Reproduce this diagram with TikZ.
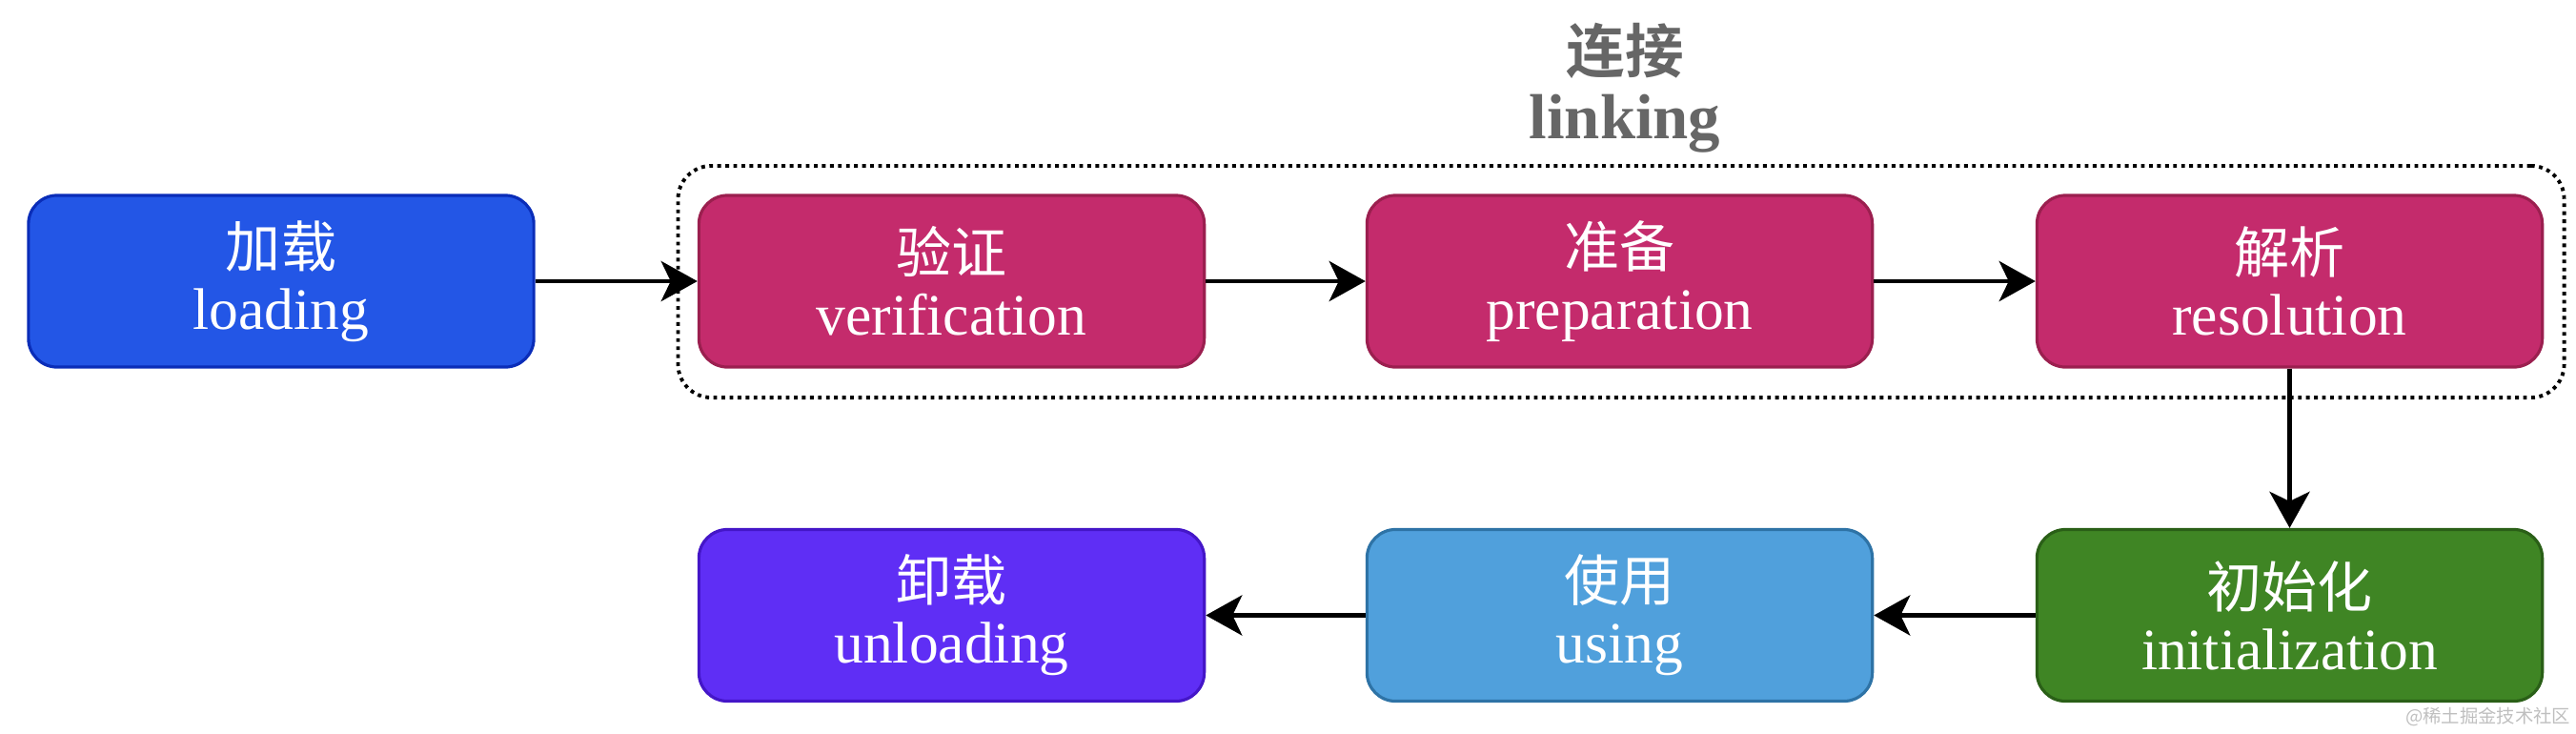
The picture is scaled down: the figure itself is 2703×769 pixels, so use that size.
\documentclass[tikz,border=0pt]{standalone}
\usepackage{fontspec}
\setmainfont{Liberation Serif}
\newfontfamily\cjk[BoldFont={Noto Sans CJK SC Bold}]{Noto Sans CJK SC}
\usetikzlibrary{arrows.meta}
\definecolor{loadfill}{HTML}{2356E6}
\definecolor{loaddraw}{HTML}{0A2DB8}
\definecolor{linkfill}{HTML}{C42B6C}
\definecolor{linkdraw}{HTML}{9B1F4F}
\definecolor{initfill}{HTML}{3F8524}
\definecolor{initdraw}{HTML}{2A5F17}
\definecolor{usefill}{HTML}{50A0DC}
\definecolor{usedraw}{HTML}{2E73A6}
\definecolor{unlfill}{HTML}{5F2EF5}
\definecolor{unldraw}{HTML}{4416C8}
\definecolor{titlegray}{HTML}{666666}
\newcommand{\zh}[1]{{\cjk\fontsize{16.5}{18}\selectfont #1}}
\begin{document}
\begin{tikzpicture}[x=0.01cm,y=-0.01cm,
  stage/.style={rounded corners=0.3cm, minimum width=5.3cm, minimum height=1.8cm,
    line width=0.9pt, text=white, align=center, inner sep=0pt,
    font=\fontsize{17.5}{18.5}\selectfont},
  flow/.style={line width=1.4pt, -{Stealth[length=0.38cm,width=0.42cm,inset=0.1cm]}},
  groupbox/.style={draw, line width=1.1pt, dash pattern=on 1.1pt off 1.3pt,
    rounded corners=0.35cm, minimum width=19.78cm, minimum height=2.43cm, inner sep=0pt}
]
\useasboundingbox (0,0) rectangle (2703,769);

\node (linkbox) [groupbox] at (1701,295.5) {};
\node (title) [align=center, text=titlegray, font=\bfseries\fontsize{19}{19.5}\selectfont]
  at (1705,92) {{\cjk\bfseries\fontsize{17.5}{19}\selectfont 连接}\\linking};

\node (load) [stage, fill=loadfill, draw=loaddraw] at (295,295) {\zh{加载}\\loading};
\node (verif) [stage, fill=linkfill, draw=linkdraw] at (998.5,295) {\zh{验证}\\verification};
\node (prep) [stage, fill=linkfill, draw=linkdraw] at (1699.5,295) {\zh{准备}\\preparation};
\node (resol) [stage, fill=linkfill, draw=linkdraw] at (2402.5,295) {\zh{解析}\\resolution};
\node (init) [stage, fill=initfill, draw=initdraw] at (2402.5,645.5) {\zh{初始化}\\initialization};
\node (using) [stage, fill=usefill, draw=usedraw] at (1699.5,645.5) {\zh{使用}\\using};
\node (unload) [stage, fill=unlfill, draw=unldraw] at (998.5,645.5) {\zh{卸载}\\unloading};

\draw[flow] (load) -- (verif);
\draw[flow] (verif) -- (prep);
\draw[flow] (prep) -- (resol);
\draw[flow] (resol) -- (init);
\draw[flow] (init) -- (using);
\draw[flow] (using) -- (unload);

\node (wm) [text=gray!50, font=\cjk\fontsize{5.5}{6}\selectfont, anchor=east, inner sep=0pt]
  at (2698,752) {@稀土掘金技术社区};
\end{tikzpicture}
\end{document}
